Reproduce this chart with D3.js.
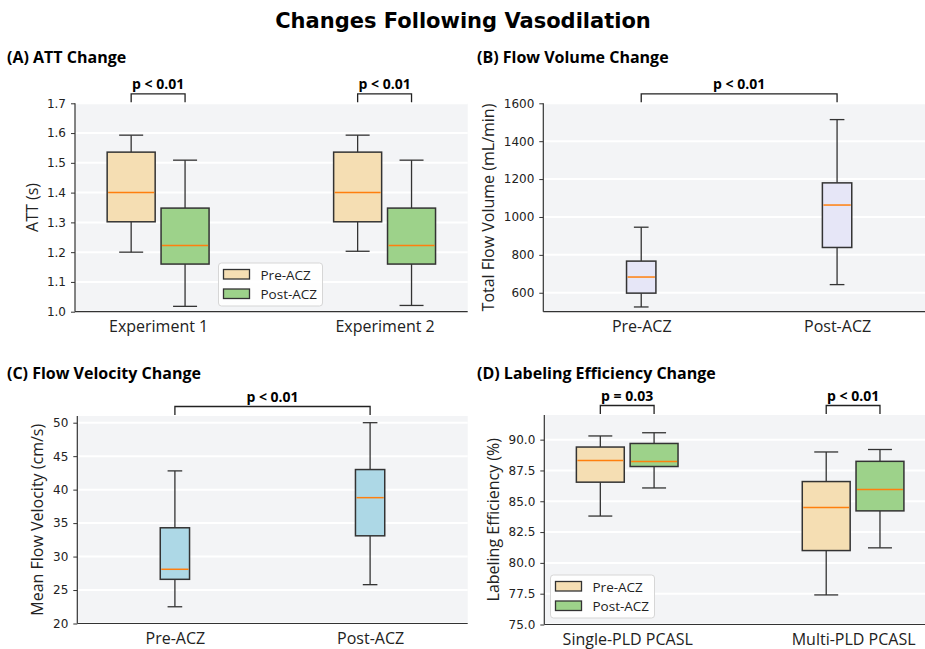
<!DOCTYPE html>
<html>
<head>
<meta charset="utf-8">
<script src="https://cdn.jsdelivr.net/npm/d3@7"></script>
<style>
  body { margin: 0; background: #fff; }
  svg { display: block; }
</style>
</head>
<body>
<div id="chart"></div>
<script>
// box stats are [lowWhisker, q1, median, q3, highWhisker]
var seriesNames = ["Pre-ACZ", "Post-ACZ"];

var attGroups = ["Experiment 1", "Experiment 2"];
var attPre  = [[1.20, 1.302, 1.40, 1.536, 1.593], [1.203, 1.302, 1.40, 1.536, 1.593]];
var attPost = [[1.018, 1.160, 1.222, 1.348, 1.509], [1.021, 1.160, 1.222, 1.348, 1.509]];
var attTicks = [1.0, 1.1, 1.2, 1.3, 1.4, 1.5, 1.6, 1.7];
var attP = ["p < 0.01", "p < 0.01"];

var volGroups = ["Pre-ACZ", "Post-ACZ"];
var volStats = [[525, 598, 683, 767, 946], [643, 839, 1063, 1180, 1514]];
var volTicks = [600, 800, 1000, 1200, 1400, 1600];
var volP = "p < 0.01";

var velGroups = ["Pre-ACZ", "Post-ACZ"];
var velStats = [[22.5, 26.6, 28.1, 34.3, 42.8], [25.8, 33.1, 38.8, 43.0, 50.0]];
var velTicks = [20, 25, 30, 35, 40, 45, 50];
var velP = "p < 0.01";

var effGroups = ["Single-PLD PCASL", "Multi-PLD PCASL"];
var effPre  = [[83.8, 86.55, 88.3, 89.4, 90.3], [77.4, 81.0, 84.5, 86.6, 89.0]];
var effPost = [[86.08, 87.82, 88.22, 89.69, 90.56], [81.22, 84.22, 85.95, 88.24, 89.2]];
var effTicks = [75.0, 77.5, 80.0, 82.5, 85.0, 87.5, 90.0];
var effP = ["p = 0.03", "p < 0.01"];

var preFill = "#f5deb3";
var postFill = "#9dd28a";
var edge = "#333";
var medianColor = "#ff7f0e";
var sansFont = "'Open Sans', 'Noto Sans', sans-serif";
var numFont = "'DejaVu Sans', sans-serif";

var svg = d3.select("#chart").append("svg")
  .attr("width", 925).attr("height", 649);

svg.append("text")
  .attr("x", 463).attr("y", 28)
  .attr("text-anchor", "middle")
  .style("font-family", numFont).style("font-weight", "bold").style("font-size", "21px")
  .text("Changes Following Vasodilation");

function drawPanel(p) {
  var x = d3.scaleLinear().domain(p.xDomain).range([p.left, p.right]);
  var y = d3.scaleLinear().domain(p.yDomain).range([p.bottom, p.top]);
  var g = svg.append("g");

  g.append("rect")
    .attr("x", p.left).attr("y", p.top)
    .attr("width", p.right - p.left).attr("height", p.bottom - p.top)
    .attr("fill", "#f3f4f6");

  g.append("g").selectAll("line")
    .data(p.ticks)
    .enter().append("line")
    .attr("x1", p.left).attr("x2", p.right)
    .attr("y1", function (d) { return y(d); })
    .attr("y2", function (d) { return y(d); })
    .attr("stroke", "#fff").attr("stroke-width", 2);

  // boxes
  var bw = p.boxWidth;
  var box = g.append("g").selectAll("g.box")
    .data(p.boxes)
    .enter().append("g");
  box.append("line")
    .attr("x1", function (d) { return x(d.pos); }).attr("x2", function (d) { return x(d.pos); })
    .attr("y1", function (d) { return y(d.stats[0]); }).attr("y2", function (d) { return y(d.stats[1]); })
    .attr("stroke", edge).attr("stroke-width", 1.3);
  box.append("line")
    .attr("x1", function (d) { return x(d.pos); }).attr("x2", function (d) { return x(d.pos); })
    .attr("y1", function (d) { return y(d.stats[3]); }).attr("y2", function (d) { return y(d.stats[4]); })
    .attr("stroke", edge).attr("stroke-width", 1.3);
  [0, 4].forEach(function (k) {
    box.append("line")
      .attr("x1", function (d) { return x(d.pos - bw / 4); })
      .attr("x2", function (d) { return x(d.pos + bw / 4); })
      .attr("y1", function (d) { return y(d.stats[k]); })
      .attr("y2", function (d) { return y(d.stats[k]); })
      .attr("stroke", edge).attr("stroke-width", 1.3);
  });
  box.append("rect")
    .attr("x", function (d) { return x(d.pos - bw / 2); })
    .attr("width", function (d) { return x(d.pos + bw / 2) - x(d.pos - bw / 2); })
    .attr("y", function (d) { return y(d.stats[3]); })
    .attr("height", function (d) { return y(d.stats[1]) - y(d.stats[3]); })
    .attr("fill", function (d) { return d.fill; })
    .attr("stroke", edge).attr("stroke-width", 1.5);
  box.append("line")
    .attr("x1", function (d) { return x(d.pos - bw / 2) + 1; })
    .attr("x2", function (d) { return x(d.pos + bw / 2) - 1; })
    .attr("y1", function (d) { return y(d.stats[2]); })
    .attr("y2", function (d) { return y(d.stats[2]); })
    .attr("stroke", medianColor).attr("stroke-width", 1.5);

  // axes
  var yAxis = g.append("g")
    .attr("transform", "translate(" + p.left + ",0)")
    .call(d3.axisLeft(y).tickValues(p.ticks).tickFormat(d3.format(p.fmt)).tickSize(4).tickPadding(5));
  yAxis.select(".domain").remove();
  yAxis.selectAll(".tick line").attr("stroke", edge);
  yAxis.selectAll("text").style("font-family", numFont).style("font-size", "12px").attr("fill", "#222");

  var xAxis = g.append("g")
    .attr("transform", "translate(0," + p.bottom + ")")
    .call(d3.axisBottom(x).tickValues(p.labelPos).tickFormat(function (d, i) { return p.labels[i]; })
      .tickSize(0).tickPadding(9));
  xAxis.select(".domain").remove();
  xAxis.selectAll("text").style("font-family", sansFont).style("font-size", "16px").attr("fill", "#222");

  g.append("line")
    .attr("x1", p.left).attr("x2", p.left).attr("y1", p.top).attr("y2", p.bottom)
    .attr("stroke", edge).attr("stroke-width", 1.2);
  g.append("line")
    .attr("x1", p.left).attr("x2", p.right).attr("y1", p.bottom).attr("y2", p.bottom)
    .attr("stroke", edge).attr("stroke-width", 1.2);

  g.append("text")
    .attr("transform", "translate(" + p.ylabelX + "," + (p.top + p.bottom) / 2 + ") rotate(-90)")
    .attr("text-anchor", "middle")
    .style("font-family", sansFont).style("font-size", "16px").attr("fill", "#222")
    .text(p.ylabel);

  g.append("text")
    .attr("x", p.titleX).attr("y", p.titleY)
    .style("font-family", sansFont).style("font-weight", "bold").style("font-size", "16px")
    .text(p.title);

  // significance brackets
  var bt = p.top - 9.5, bb = p.top - 1;
  p.brackets.forEach(function (b) {
    var xa = x(b[0]), xb = x(b[1]);
    g.append("path")
      .attr("d", "M" + xa + "," + bb + "V" + bt + "H" + xb + "V" + bb)
      .attr("fill", "none").attr("stroke", "#222").attr("stroke-width", 1.3);
    g.append("text")
      .attr("x", (xa + xb) / 2).attr("y", bt - 4.5)
      .attr("text-anchor", "middle")
      .style("font-family", sansFont).style("font-weight", "bold").style("font-size", "14px")
      .text(b[2]);
  });

  if (p.legend) {
    var lg = g.append("g").attr("transform", "translate(" + p.legend[0] + "," + p.legend[1] + ")");
    lg.append("rect")
      .attr("width", 104).attr("height", 43).attr("rx", 3)
      .attr("fill", "#fff").attr("fill-opacity", 0.85)
      .attr("stroke", "#d6d6d6");
    var item = lg.selectAll("g.item")
      .data(seriesNames)
      .enter().append("g")
      .attr("transform", function (d, i) { return "translate(5," + (6.5 + i * 19.5) + ")"; });
    item.append("rect")
      .attr("width", 26).attr("height", 9.5)
      .attr("fill", function (d, i) { return i === 0 ? preFill : postFill; })
      .attr("stroke", edge).attr("stroke-width", 1.3);
    item.append("text")
      .attr("x", 37).attr("y", 10)
      .style("font-family", sansFont).style("font-size", "13.5px").attr("fill", "#222")
      .text(function (d) { return d; });
  }
}

function groupedBoxes(pre, post, off) {
  var out = [];
  pre.forEach(function (s, i) {
    out.push({ pos: i - off, stats: s, fill: preFill });
    out.push({ pos: i + off, stats: post[i], fill: postFill });
  });
  return out;
}

// (A)
drawPanel({
  left: 75, right: 467.7, top: 103.3, bottom: 311.7,
  xDomain: [-0.367, 1.367], yDomain: [1.0, 1.7], ticks: attTicks, fmt: ".1f",
  boxWidth: 0.212,
  boxes: groupedBoxes(attPre, attPost, 0.119),
  labelPos: [0, 1], labels: attGroups,
  ylabel: "ATT (s)", ylabelX: 38,
  title: "(A) ATT Change", titleX: 7, titleY: 63,
  brackets: [[-0.119, 0.119, attP[0]], [0.881, 1.119, attP[1]]],
  legend: [218.5, 263]
});

// (B)
drawPanel({
  left: 543.3, right: 935, top: 103.3, bottom: 311.7,
  xDomain: [-0.5, 1.5], yDomain: [500, 1600], ticks: volTicks, fmt: "d",
  boxWidth: 0.15,
  boxes: volStats.map(function (s, i) { return { pos: i, stats: s, fill: "#e6e6f7" }; }),
  labelPos: [0, 1], labels: volGroups,
  ylabel: "Total Flow Volume (mL/min)", ylabelX: 494,
  title: "(B) Flow Volume Change", titleX: 477, titleY: 63,
  brackets: [[0, 1, volP]]
});

// (C)
drawPanel({
  left: 77.3, right: 467.7, top: 416, bottom: 623.5,
  xDomain: [-0.5, 1.5], yDomain: [20, 51], ticks: velTicks, fmt: "d",
  boxWidth: 0.15,
  boxes: velStats.map(function (s, i) { return { pos: i, stats: s, fill: "#add8e6" }; }),
  labelPos: [0, 1], labels: velGroups,
  ylabel: "Mean Flow Velocity (cm/s)", ylabelX: 43,
  title: "(C) Flow Velocity Change", titleX: 7, titleY: 379,
  brackets: [[0, 1, velP]]
});

// (D)
drawPanel({
  left: 544.3, right: 936, top: 415, bottom: 624.5,
  xDomain: [-0.367, 1.367], yDomain: [75, 92], ticks: effTicks, fmt: ".1f",
  boxWidth: 0.212,
  boxes: groupedBoxes(effPre, effPost, 0.119),
  labelPos: [0, 1], labels: effGroups,
  ylabel: "Labeling Efficiency (%)", ylabelX: 499,
  title: "(D) Labeling Efficiency Change", titleX: 477, titleY: 379,
  brackets: [[-0.119, 0.119, effP[0]], [0.881, 1.119, effP[1]]],
  legend: [550.5, 575]
});
</script>
</body>
</html>
